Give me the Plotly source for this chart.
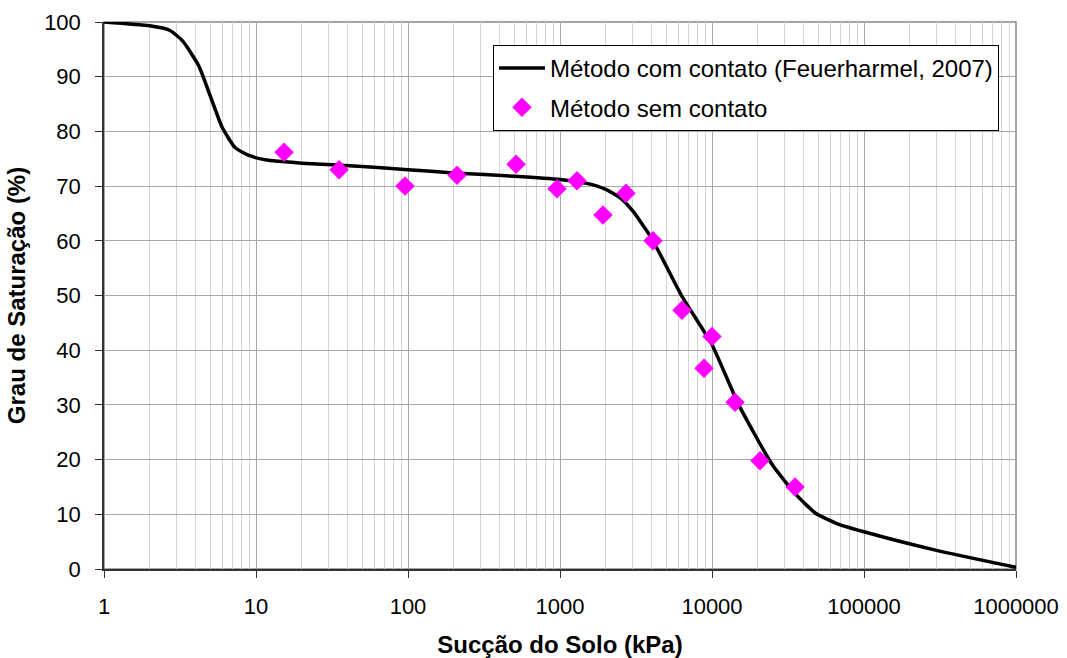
import plotly.graph_objects as go

# Curve: Método com contato (Feuerharmel, 2007)
curve_x = [1, 2, 2.7, 3.3, 4.2, 5, 6, 7.3, 9, 11.5, 20, 50, 100, 200, 500, 1000,
           1500, 2000, 2500, 3000, 4000, 6300, 10000, 15000, 25000, 36000, 48000,
           65000, 100000, 300000, 1000000]
curve_y = [100, 99.3, 98.5, 96.5, 92, 86.5, 80.7, 77, 75.6, 74.8, 74.2, 73.6, 73.0,
           72.4, 71.8, 71.2, 70.5, 69.4, 67.8, 65.5, 60.5, 50, 41, 30, 19, 13.5,
           10.2, 8.4, 6.8, 3.4, 0.3]

# Points: Método sem contato
pts_x = [15.3, 35.2, 95.6, 210, 514, 956, 1294, 1918, 2718, 4090, 6350, 10000,
         8860, 14170, 20700, 35200]
pts_y = [76.2, 73.0, 70.0, 72.0, 74.0, 69.5, 71.0, 64.7, 68.7, 60.0, 47.3, 42.5,
         36.7, 30.5, 19.8, 15.0]

x_ticks = [1, 10, 100, 1000, 10000, 100000, 1000000]
x_tick_labels = ["1", "10", "100", "1000", "10000", "100000", "1000000"]
y_ticks = list(range(0, 101, 10))

FONT = "Liberation Sans, Arial, sans-serif"

fig = go.Figure()
fig.add_trace(go.Scatter(
    x=curve_x, y=curve_y, mode="lines",
    name="Método com contato (Feuerharmel, 2007)", legendgroup="a",
    line=dict(color="black", width=3.5, shape="spline", smoothing=0.5),
))
fig.add_trace(go.Scatter(
    x=pts_x, y=pts_y, mode="markers",
    name="Método sem contato", legendgroup="b",
    marker=dict(symbol="diamond", color="#FF00FF", size=15, line=dict(width=0)),
))

fig.update_layout(
    width=1067, height=658,
    margin=dict(l=104, r=51, t=22, b=89),
    paper_bgcolor="white", plot_bgcolor="white",
    font=dict(family=FONT, size=22, color="black"),
    showlegend=True,
    legend=dict(
        x=0.4265, y=0.958, xanchor="left", yanchor="top",
        bgcolor="white", bordercolor="black", borderwidth=1,
        font=dict(family=FONT, size=24, color="black"),
        itemwidth=46, tracegroupgap=5, traceorder="grouped",
    ),
    shapes=[dict(type="rect", xref="paper", yref="paper", x0=0, y0=0, x1=1, y1=1,
                 line=dict(color="#888888", width=1.5), layer="below")],
)

fig.update_xaxes(
    type="log", range=[0, 6], automargin=False,
    tickvals=x_ticks, ticktext=x_tick_labels,
    showgrid=True, gridcolor="#a8a8a8", gridwidth=1,
    minor=dict(dtick="D1", showgrid=True, gridcolor="#d4d4d4", gridwidth=1, ticks=""),
    showline=True, linecolor="#333333", linewidth=1.5,
    ticks="outside", ticklen=7, tickcolor="#333333",
    ticklabelstandoff=10,
    tickfont=dict(family=FONT, size=22),
    title=dict(text="<b>Sucção do Solo (kPa)</b>", font=dict(family=FONT, size=24), standoff=20),
    zeroline=False,
)
fig.update_yaxes(
    range=[0, 100], automargin=False, tickvals=y_ticks,
    showgrid=True, gridcolor="#a8a8a8", gridwidth=1,
    showline=True, linecolor="#333333", linewidth=1.5,
    ticks="outside", ticklen=7, tickcolor="#333333",
    ticklabelstandoff=10,
    tickfont=dict(family=FONT, size=22),
    title=dict(text="<b>Grau de Saturação (%)</b>", font=dict(family=FONT, size=24), standoff=12),
    zeroline=False,
)

fig.write_html("out.html")
